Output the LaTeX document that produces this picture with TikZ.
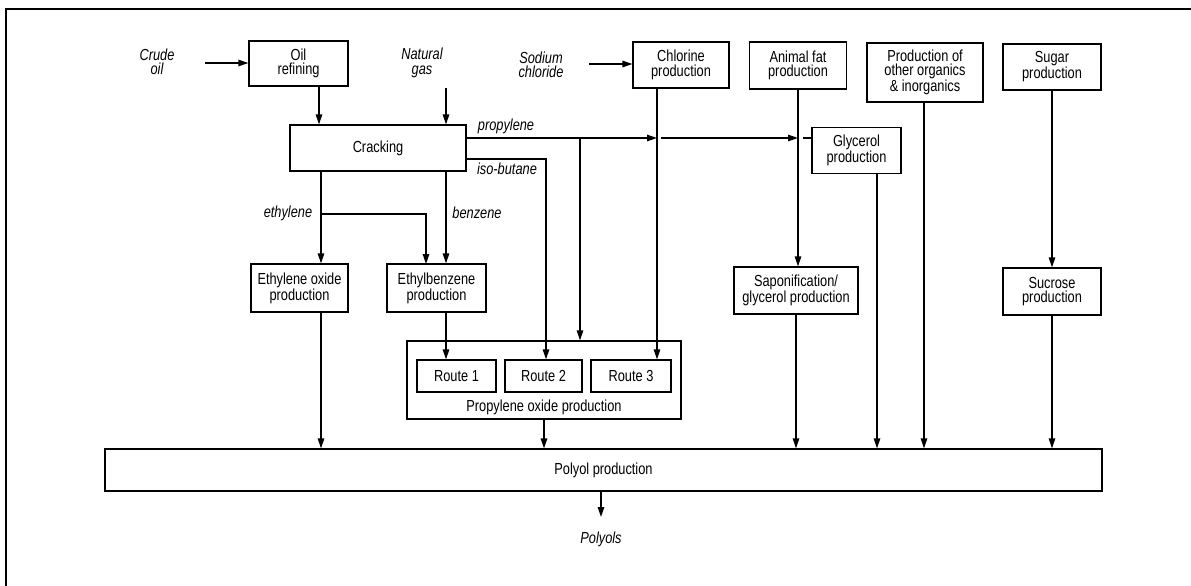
\documentclass[tikz,border=0pt]{standalone}
\usepackage{fontspec}
\setmainfont{Liberation Sans}[FakeStretch=0.8]
\usetikzlibrary{arrows.meta,calc}
\begin{document}
\begin{tikzpicture}[x=1pt,y=-1pt,
  every node/.style={font=\fontsize{16pt}{14.5pt}\selectfont},
  box/.style={draw,line width=1.3pt,align=center,inner sep=0pt},
  lbl/.style={align=center,inner sep=1pt,font=\fontsize{16pt}{14.5pt}\selectfont\itshape},
  arr/.style={line width=1.3pt,-{Triangle[length=10pt,width=6.5pt]}},
  ln/.style={line width=1.3pt}]
\useasboundingbox (0,0) rectangle (1191,586);
\draw[line width=1.8pt] (6,586) -- (6,9) -- (1191,9);

% boxes
\node[box,minimum width=99pt,minimum height=45pt] (oil) at (298.5,63.5) {Oil\\refining};
\node[box,minimum width=176pt,minimum height=46pt] (crack) at (378,148) {Cracking};
\node[box,minimum width=96pt,minimum height=46pt] (chlor) at (681,65) {Chlorine\\production};
\node[box,minimum width=97pt,minimum height=47pt] (fat) at (798,65.5) {Animal fat\\production};
\node[box,minimum width=116pt,minimum height=59pt] (other) at (925,72.5) {Production of\\other organics\\\& inorganics};
\node[box,minimum width=98pt,minimum height=46pt] (sugar) at (1052,67) {Sugar\\production};
\node[box,minimum width=89pt,minimum height=46pt] (glyc) at (856.5,150.5) {Glycerol\\production};
\node[box,minimum width=97pt,minimum height=48pt] (eo) at (299.5,288) {Ethylene oxide\\production};
\node[box,minimum width=99pt,minimum height=48pt] (eb) at (436.5,288) {Ethylbenzene\\production};
\node[box,minimum width=124pt,minimum height=47pt] (sap) at (796,290.5) {Saponification/\\glycerol production};
\node[box,minimum width=98pt,minimum height=47pt] (suc) at (1052,291.5) {Sucrose\\production};
\node[box,minimum width=274pt,minimum height=78pt] (po) at (544,380) {};
\node[box,minimum width=79pt,minimum height=32pt] (r1) at (456.5,376) {Route 1};
\node[box,minimum width=77pt,minimum height=32pt] (r2) at (543.5,376) {Route 2};
\node[box,minimum width=80pt,minimum height=32pt] (r3) at (631,376) {Route 3};
\node[inner sep=0pt] (polabel) at (544,407) {Propylene oxide production};
\node[box,minimum width=997pt,minimum height=42pt] (polyol) at (603.5,470) {Polyol production};

% labels
\node[lbl] (crude) at (157,62) {Crude\\oil};
\node[lbl] (ngas) at (422,63) {Natural\\gas};
\node[lbl] (nacl) at (541,65) {Sodium\\chloride};
\node[lbl] (lprop) at (506,126) {propylene};
\node[lbl] (liso) at (507,169) {iso-butane};
\node[lbl] (leth) at (288,213) {ethylene};
\node[lbl] (lbenz) at (477,213) {benzene};
\node[lbl] (polyols) at (601,539) {Polyols};

% helper coordinates
\coordinate (crudeout) at (205,63);
\coordinate (ngtop) at (446,88);
\coordinate (naclout) at (589,64);
\coordinate (oilout) at ([xshift=20.5pt]oil.south);
\coordinate (clout) at ([xshift=-24pt]chlor.south);
\coordinate (glout) at ([xshift=20.5pt]glyc.south);
\coordinate (propA) at (466,138);
\coordinate (isoA) at (466,159);
\coordinate (isoB) at (546,159);
\coordinate (pjb) at (580,138);
\coordinate (ethx) at (321,171);
\coordinate (ethb) at (321,214);
\coordinate (ebin) at (426,264);
\coordinate (benx) at (446,171);
\coordinate (ebout) at (446,312);
\coordinate (polyolsin) at (601,517);

% connectors
\draw[arr] (crudeout) -- (crudeout -| oil.west);
\draw[arr] (naclout) -- (naclout -| chlor.west);
\draw[arr] (oilout) -- (oilout |- crack.north);
\draw[arr] (ngtop) -- (ngtop |- crack.north);

\draw[arr] (propA) -- (clout |- propA);
\draw[arr] ($(clout |- propA)+(4,0)$) -- (fat.south |- propA);
\draw[ln] ($(fat.south |- propA)+(5,0)$) -- (glyc.west |- propA);
\draw[arr] (pjb) -- (pjb |- po.north);
\draw[arr] (isoA) -- (isoB) -- (isoB |- r2.north);
\draw[arr] (clout) -- (clout |- r3.north);

\draw[arr] (ethx) -- (ethx |- eo.north);
\draw[arr] (ethb) -| (ebin);
\draw[arr] (benx) -- (benx |- eb.north);
\draw[arr] (ebout) -- (ebout |- r1.north);

\draw[arr] (fat.south) -- (fat.south |- sap.north);
\draw[arr] (sugar.south) -- (suc.north);

\draw[arr] (ethx |- eo.south) -- (ethx |- polyol.north);
\draw[arr] (po.south) -- (po.south |- polyol.north);
\draw[arr] (sap.south) -- (sap.south |- polyol.north);
\draw[arr] (glout) -- (glout |- polyol.north);
\draw[arr] ([xshift=-1pt]other.south) -- ([xshift=-1pt]other.south |- polyol.north);
\draw[arr] (suc.south) -- (suc.south |- polyol.north);
\draw[arr] (polyolsin |- polyol.south) -- (polyolsin);
\end{tikzpicture}
\end{document}
